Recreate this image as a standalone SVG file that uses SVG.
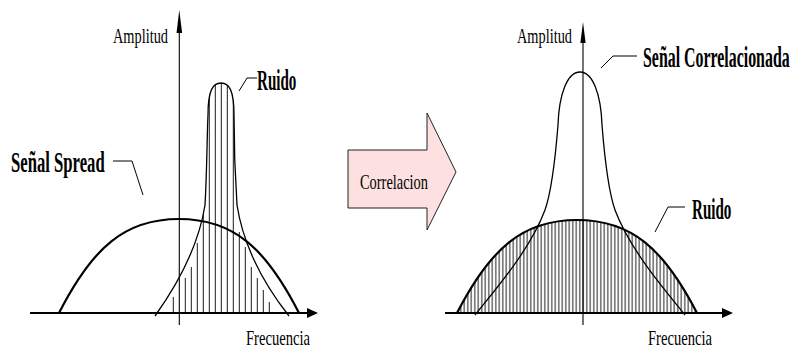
<svg xmlns="http://www.w3.org/2000/svg" width="801" height="350" viewBox="0 0 801 350">
<style>
.ax{stroke:#000;stroke-width:1.1;fill:none}
.base{stroke:#000;stroke-width:2.2;fill:none}
.thin{stroke:#000;stroke-width:1.3;fill:none}
.thick{stroke:#000;stroke-width:2.2;fill:none}
.lead{stroke:#000;stroke-width:1;fill:none}
.hatch{stroke:#000;stroke-width:0.9}
.lbl{font-family:"Liberation Serif","DejaVu Serif",serif;font-size:22px;fill:#000}
.bold{font-family:"Liberation Serif","DejaVu Serif",serif;font-size:29px;font-weight:bold;fill:#000}
</style>
<defs>
<pattern id="vh" patternUnits="userSpaceOnUse" x="0.5" y="0" width="3.5" height="10"><line x1="1.75" y1="0" x2="1.75" y2="10" stroke="#000" stroke-width="0.9"/></pattern>
<clipPath id="rc"><path d="M155,316 C175,288 198,250 205,205 C207,170 207,135 208,115 C208,90 213,83 221,83 C229,83 234,90 234,115 C234,140 235,175 237,205 C244,250 267,288 289,316 Z"/></clipPath>
</defs>

<g id="left-panel">
  <g id="left-hatch" clip-path="url(#rc)">
    <line class="hatch" x1="173.3" y1="313" x2="173.3" y2="297"/>
    <line class="hatch" x1="185.3" y1="313" x2="185.3" y2="278"/>
    <line class="hatch" x1="191.3" y1="313" x2="191.3" y2="267"/>
    <line class="hatch" x1="197.3" y1="313" x2="197.3" y2="243"/>
    <line class="hatch" x1="203.3" y1="313" x2="203.3" y2="80"/>
    <line class="hatch" x1="209.3" y1="313" x2="209.3" y2="80"/>
    <line class="hatch" x1="215.3" y1="313" x2="215.3" y2="80"/>
    <line class="hatch" x1="221.3" y1="313" x2="221.3" y2="80"/>
    <line class="hatch" x1="227.3" y1="313" x2="227.3" y2="80"/>
    <line class="hatch" x1="233.3" y1="313" x2="233.3" y2="80"/>
    <line class="hatch" x1="239.3" y1="313" x2="239.3" y2="232"/>
    <line class="hatch" x1="245.3" y1="313" x2="245.3" y2="247"/>
    <line class="hatch" x1="251.3" y1="313" x2="251.3" y2="267"/>
    <line class="hatch" x1="257.3" y1="313" x2="257.3" y2="278"/>
    <line class="hatch" x1="263.3" y1="313" x2="263.3" y2="290"/>
    <line class="hatch" x1="269.3" y1="313" x2="269.3" y2="302"/>
  </g>
  <path id="left-ruido" class="thin" d="M155,316 C175,288 198,250 205,205 C207,170 207,135 208,115 C208,90 213,83 221,83 C229,83 234,90 234,115 C234,140 235,175 237,205 C244,250 267,288 289,316"/>
  <path id="left-spread" class="thick" d="M59,313 C92.6,247.2 125,219 179,219 C233,219 265.4,247.2 299,313"/>
  <g id="left-axes">
    <line class="ax" x1="179.3" y1="30" x2="179.3" y2="325"/>
    <polygon points="179.3,10 176.5,33 182.1,33" fill="#000"/>
    <line class="base" x1="30" y1="313" x2="309" y2="313"/>
    <polygon points="318,313 307,308 307,318" fill="#000"/>
  </g>
  <g id="left-leaders">
    <polyline class="lead" points="113,161 132,161 143,195"/>
    <polyline class="lead" points="257,78 247,78 239,91"/>
  </g>
  <text class="lbl" transform="translate(113,43) scale(0.652,1)">Amplitud</text>
  <text class="lbl" transform="translate(246,345) scale(0.663,1)">Frecuencia</text>
  <text class="bold" transform="translate(11,172) scale(0.575,1)">Señal Spread</text>
  <text class="bold" transform="translate(257,90) scale(0.52,1)">Ruido</text>
</g>

<g id="correlacion-arrow">
  <polygon points="348,150 427,150 427,113 456,172 427,230 427,208 348,208" fill="#fde0e0" stroke="#222" stroke-width="1"/>
  <text class="lbl" transform="translate(360,189) scale(0.655,1)">Correlacion</text>
</g>

<g id="right-panel">
  <path id="right-ruido-fill" d="M457,313 C490.6,247.9 523,220 577,220 C631,220 663.4,247.9 697,313 Z" fill="url(#vh)"/>
  <path id="right-ruido" class="thick" d="M457,313 C490.6,247.9 523,220 577,220 C631,220 663.4,247.9 697,313"/>
  <path id="right-signal" class="thin" d="M475,315 C495,290 530,250 545,210 C552,190 556,150 558,125 C559,95 567,72 580,72 C593,72 601,95 602,125 C604,150 608,190 615,210 C630,250 665,290 685,315"/>
  <g id="right-axes">
    <line class="ax" x1="583" y1="40" x2="583" y2="325"/>
    <polygon points="583,22 580.4,43 585.6,43" fill="#000"/>
    <line class="base" x1="445" y1="313" x2="724" y2="313"/>
    <polygon points="733,313 722,308 722,318" fill="#000"/>
  </g>
  <g id="right-leaders">
    <polyline class="lead" points="637,56 613,56 601,68"/>
    <polyline class="lead" points="685,207 668,207 655,232"/>
  </g>
  <text class="lbl" transform="translate(517,43) scale(0.652,1)">Amplitud</text>
  <text class="lbl" transform="translate(648,345) scale(0.663,1)">Frecuencia</text>
  <text class="bold" transform="translate(643,67) scale(0.548,1)">Señal Correlacionada</text>
  <text class="bold" transform="translate(692,219) scale(0.52,1)">Ruido</text>
</g>
</svg>
